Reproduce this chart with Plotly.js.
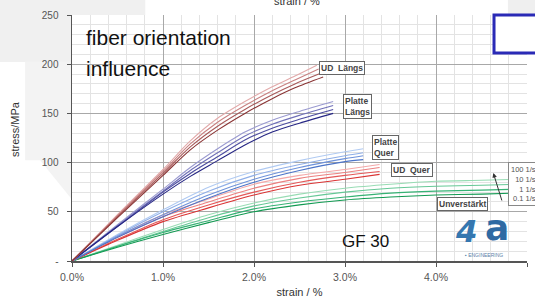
<!DOCTYPE html>
<html>
<head>
<meta charset="utf-8">
<script src="https://cdn.plot.ly/plotly-3.0.1.min.js"></script>
<style>
  html, body { margin: 0; padding: 0; background: #ffffff; }
  #chart { width: 535px; height: 302px; }
</style>
</head>
<body>
<div id="chart"></div>
<script>
// ---- data (strain in %, stress in MPa); rates 100, 10, 1, 0.1 1/s ----
const rates = ['100 1/s', '10 1/s', '1 1/s', '0.1 1/s'];

const udLaengsStrain = [
  [0, 0.5, 1.0, 1.3, 1.6, 1.9, 2.2, 2.45, 2.69],
  [0, 0.5, 1.0, 1.3, 1.6, 1.9, 2.2, 2.45, 2.71],
  [0, 0.5, 1.0, 1.3, 1.6, 1.9, 2.2, 2.45, 2.74],
  [0, 0.5, 1.0, 1.3, 1.6, 1.9, 2.2, 2.45, 2.76]
];
const udLaengsStress = [
  [0, 47, 93, 122, 145, 162, 177, 188, 199],
  [0, 46, 91, 119, 141, 158, 173, 184, 195],
  [0, 45, 89, 116, 137, 154, 169, 180, 191],
  [0, 44, 87, 113, 133, 150, 165, 176, 187]
];

const platteLaengsStrain = [0, 0.5, 1.0, 1.3, 1.6, 1.9, 2.2, 2.5, 2.87];
const platteLaengsStress = [
  [0, 37, 73, 95, 114, 131, 143, 152, 162],
  [0, 36, 71, 92, 110, 127, 139, 148, 158],
  [0, 35, 70, 89, 106, 123, 135, 144, 154],
  [0, 35, 68, 86, 102, 118, 131, 140, 150]
];

const platteQuerStrain = [0, 0.5, 1.0, 1.5, 2.0, 2.5, 3.0, 3.2];
const platteQuerStress = [
  [0, 27, 52, 75, 91, 102, 111, 114],
  [0, 26, 50, 71, 87, 98, 107, 110],
  [0, 25, 47, 67, 83, 95, 104, 107],
  [0, 24, 45, 64, 80, 92, 101, 103]
];

const udQuerStrain = [0, 0.5, 1.0, 1.5, 2.0, 2.5, 3.0, 3.38];
const udQuerStress = [
  [0, 25, 47, 63, 78, 87, 93, 98],
  [0, 24, 45, 60, 74, 84, 90, 95],
  [0, 22, 42, 57, 70, 80, 87, 91],
  [0, 21, 40, 54, 67, 77, 83, 88]
];

const unverstaerktStrain = [0, 0.5, 1.0, 1.5, 2.0, 2.5, 3.0, 3.5, 4.0, 4.5, 4.9];
const unverstaerktStress = [
  [0, 16, 32, 47, 59, 68, 74, 78, 81, 82, 83],
  [0, 15, 30, 44, 56, 64, 70, 74, 76, 77, 78],
  [0, 15, 29, 41, 53, 60, 65, 69, 71, 72, 73],
  [0, 14, 27, 39, 50, 57, 62, 65, 67, 68, 69]
];

const xTickVals = [0, 1, 2, 3, 4, 5];
const xTickText = ['0.0%', '1.0%', '2.0%', '3.0%', '4.0%', '5.0%'];
const yTickVals = [0, 50, 100, 150, 200, 250];
const yTickText = ['-', '50', '100', '150', '200', '250'];

// ---- styles ----
const FONT = 'Arial, "Liberation Sans", sans-serif';
const colUDL = ['#e2aaaa', '#c98282', '#a85a5a', '#8a3434'];
const colPL = ['#9a9ad0', '#7070b8', '#4c4ca0', '#262684'];
const colPQ = ['#b0caf2', '#8eaee8', '#6e92da', '#4c74c8'];
const colUDQ = ['#f4a8a8', '#ec8080', '#e45858', '#da3434'];
const colUV = ['#98dcb4', '#66c896', '#36b274', '#129a52'];

const traces = [];
function addGroup(name, strainFor, stressArr, colors) {
  stressArr.forEach((ys, i) => {
    traces.push({
      type: 'scatter', mode: 'lines', name: name + ' ' + rates[i],
      x: strainFor(i), y: ys,
      line: { color: colors[i], width: 1.1, shape: 'spline', smoothing: 0.8 },
      hoverinfo: 'skip', showlegend: false
    });
  });
}
addGroup('Unverstärkt', () => unverstaerktStrain, unverstaerktStress, colUV);
addGroup('UD Quer', () => udQuerStrain, udQuerStress, colUDQ);
addGroup('Platte Quer', () => platteQuerStrain, platteQuerStress, colPQ);
addGroup('Platte Längs', () => platteLaengsStrain, platteLaengsStress, colPL);
addGroup('UD Längs', i => udLaengsStrain[i], udLaengsStress, colUDL);

const boxLabel = (text, x, y) => ({
  text: text, x: x, y: y, xref: 'x', yref: 'y', showarrow: false,
  xanchor: 'center', yanchor: 'middle', align: 'left',
  font: { family: FONT, size: 8.5, color: '#444', weight: 'bold' },
  bgcolor: '#ffffff', bordercolor: '#666', borderwidth: 1, borderpad: 1
});

const layout = {
  width: 535, height: 302,
  margin: { l: 72, r: 8, t: 15, b: 41 },
  paper_bgcolor: '#ffffff', plot_bgcolor: '#ffffff',
  font: { family: FONT, color: '#555' },
  showlegend: false,
  xaxis: {
    range: [0, 5], tickvals: xTickVals, ticktext: xTickText,
    showgrid: true, gridcolor: '#a8a8a8', gridwidth: 1,
    minor: { dtick: 0.2, showgrid: true, gridcolor: '#e3e3e3', gridwidth: 1 },
    showline: true, linecolor: '#555', linewidth: 1.5,
    ticks: 'outside', ticklen: 4, tickcolor: '#555',
    tickfont: { family: FONT, size: 10.5, color: '#555' },
    ticklabelstandoff: 2,
    zeroline: false,
    title: { text: 'strain / %', font: { family: FONT, size: 11, color: '#333' }, standoff: 6 }
  },
  yaxis: {
    range: [0, 250], tickvals: yTickVals, ticktext: yTickText,
    showgrid: true, gridcolor: '#a8a8a8', gridwidth: 1,
    minor: { dtick: 10, showgrid: true, gridcolor: '#e3e3e3', gridwidth: 1 },
    showline: true, linecolor: '#555', linewidth: 1.5,
    ticks: 'outside', ticklen: 4, tickcolor: '#555',
    tickfont: { family: FONT, size: 10, color: '#555' },
    ticklabelstandoff: 6,
    zeroline: false
  },
  shapes: [
    // light grey slide background patches outside plot area
    { type: 'rect', xref: 'paper', yref: 'paper', x0: -0.16, x1: 0.161, y0: 1.0, y1: 1.07,
      fillcolor: '#f0f0f0', line: { width: 0 }, layer: 'below' },
    { type: 'rect', xref: 'paper', yref: 'paper', x0: -0.16, x1: 0, y0: 0.809, y1: 1.07,
      fillcolor: '#f0f0f0', line: { width: 0 }, layer: 'below' },
    { type: 'path', xref: 'paper', yref: 'paper',
      path: 'M -0.103 0.81 L 0 0.81 L 0 0.25 L -0.07 0.41 L -0.103 0.41 Z',
      fillcolor: '#f3f3f3', line: { width: 0 }, layer: 'below' },
    { type: 'rect', xref: 'paper', yref: 'paper', x0: 0.958, x1: 1.03, y0: 1.0, y1: 1.07,
      fillcolor: '#efefef', line: { width: 0 }, layer: 'below' },
    // blue frame top right
    { type: 'rect', xref: 'paper', yref: 'paper', x0: 0.9275, x1: 1.05, y0: 0.8455, y1: 1.0,
      fillcolor: '#ffffff', line: { color: '#2a2ab6', width: 3 }, layer: 'above' }
  ],
  annotations: [
    { text: 'strain / %', xref: 'paper', yref: 'paper', x: 0.495, y: 1.026,
      xanchor: 'center', yanchor: 'bottom', showarrow: false,
      font: { family: FONT, size: 11, color: '#333' } },
    { text: 'stress/MPa', xref: 'paper', yref: 'paper', x: -0.125, y: 0.537,
      xanchor: 'center', yanchor: 'middle', textangle: -90, showarrow: false,
      font: { family: FONT, size: 11, color: '#333' } },
    { text: 'fiber orientation', xref: 'paper', yref: 'paper',
      x: 0.026, y: 0.908, xanchor: 'left', yanchor: 'middle', showarrow: false,
      font: { family: FONT, size: 21, color: '#111' } },
    { text: 'influence', xref: 'paper', yref: 'paper',
      x: 0.026, y: 0.782, xanchor: 'left', yanchor: 'middle', showarrow: false,
      font: { family: FONT, size: 21, color: '#111' } },
    { text: 'GF 30', xref: 'paper', yref: 'paper', x: 0.645, y: 0.08,
      xanchor: 'center', yanchor: 'middle', showarrow: false,
      font: { family: FONT, size: 17, color: '#111' } },
    { text: '<b><i>4</i></b>', xref: 'paper', yref: 'paper', x: 0.866, y: 0.12,
      xanchor: 'center', yanchor: 'middle', showarrow: false,
      font: { family: '"DejaVu Sans", sans-serif', size: 31, color: '#3577b0' } },
    { text: '<b>a</b>', xref: 'paper', yref: 'paper', x: 0.935, y: 0.135,
      xanchor: 'center', yanchor: 'middle', showarrow: false,
      font: { family: '"DejaVu Sans", sans-serif', size: 36, color: '#2f6aa3' } },
    { text: '▪ ENGINEERING', xref: 'paper', yref: 'paper', x: 0.905, y: 0.025,
      xanchor: 'center', yanchor: 'middle', showarrow: false,
      font: { family: FONT, size: 5, color: '#5a7fa8' } },
    boxLabel('UD  Längs', 2.97, 196),
    boxLabel('Platte<br>Längs', 3.14, 157),
    boxLabel('Platte<br>Quer', 3.44, 115),
    boxLabel('UD  Quer', 3.74, 92),
    boxLabel('Unverstärkt', 4.29, 58),
    { text: rates.join('<br>'), xref: 'x', yref: 'y', x: 4.79, y: 78.5,
      xanchor: 'left', yanchor: 'middle', align: 'right', showarrow: false,
      font: { family: FONT, size: 7.5, color: '#555' },
      bgcolor: '#ffffff', bordercolor: '#888', borderwidth: 1, borderpad: 2 },
    { text: '', xref: 'x', yref: 'y', x: 4.63, y: 89.4, ax: 9, ay: 29,
      showarrow: true, arrowhead: 2, arrowsize: 0.9, arrowwidth: 1, arrowcolor: '#333' }
  ]
};

Plotly.newPlot('chart', traces, layout, { staticPlot: true, displayModeBar: false });
</script>
</body>
</html>
